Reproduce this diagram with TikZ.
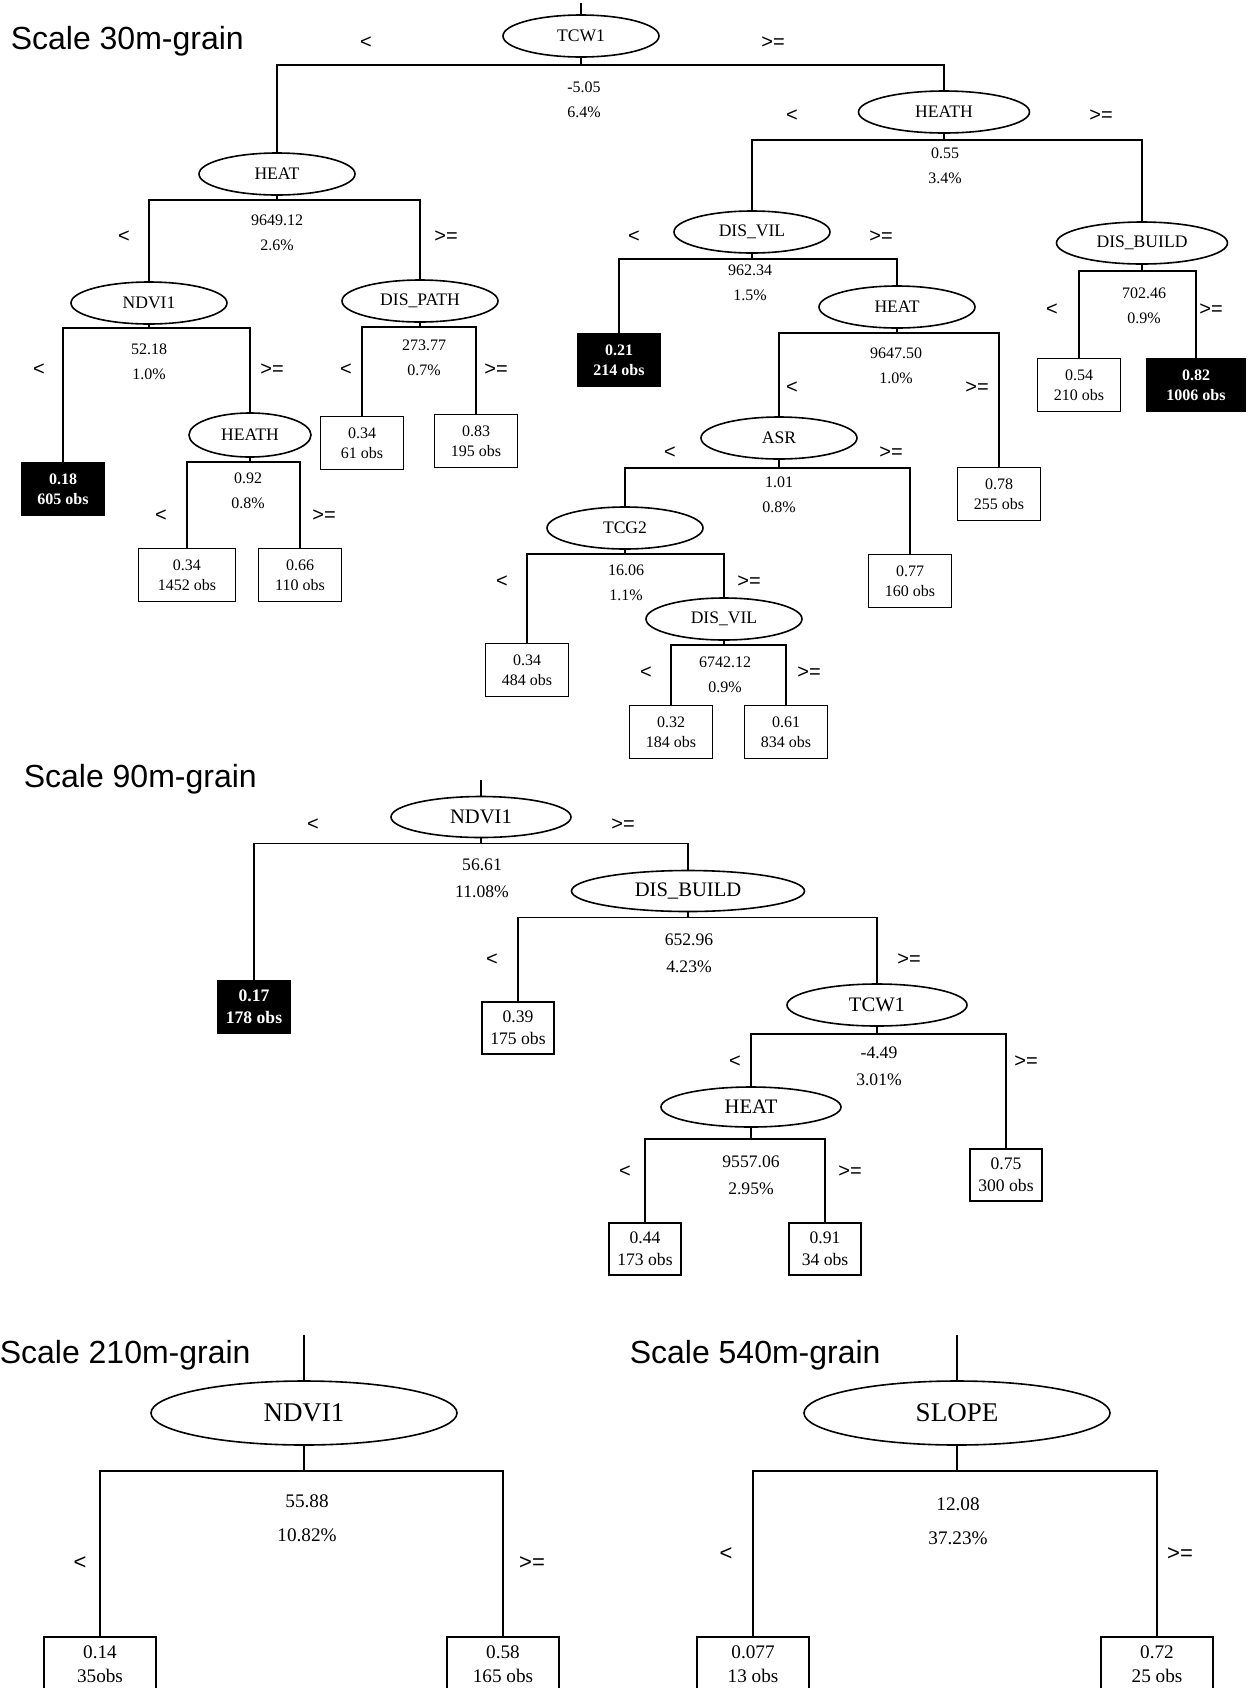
\documentclass[tikz,border=0pt]{standalone}
\usepackage{fontspec}
\setmainfont{Liberation Serif}
\setsansfont{Liberation Sans}
\usetikzlibrary{shapes.geometric}

\begin{document}
\begin{tikzpicture}[x=0.5pt, y=-0.5pt, line width=0.8pt,
	split/.style={draw, ellipse, inner sep=0pt, minimum width=78pt, minimum height=21pt, font=\fontsize{8.8}{10}\selectfont},
	leaf/.style={draw, rectangle, inner sep=0pt, minimum width=41.5pt, minimum height=26.5pt, align=center, font=\fontsize{8}{10}\selectfont},
	dark/.style={leaf, fill=black, text=white, font=\bfseries\fontsize{8}{10}\selectfont},
	info/.style={align=center, inner sep=0pt, font=\fontsize{8}{12.5}\selectfont},
	side/.style={inner sep=0pt, font=\sffamily\fontsize{10}{10}\selectfont},
	title/.style={anchor=base west, inner sep=0pt, font=\sffamily\fontsize{16}{18}\selectfont}]
	\useasboundingbox (0,0) rectangle (1250,1688);

	% Scale 30m-grain
	\node[title] (t30) at (10,49) {Scale 30m-grain};
	\coordinate (top30) at (581,3);
	\node[split] (tcw) at (581,36) {TCW1};
	\node[split] (heat) at (277,174) {HEAT};
	\node[split, minimum width=85.5pt] (heath) at (944,112) {HEATH};
	\node[split] (ndvi) at (149,303) {NDVI1};
	\node[split] (dispath) at (420,301) {DIS\_PATH};
	\node[split, minimum width=61pt, minimum height=22pt] (heathb) at (250,435) {HEATH};
	\node[split] (disvil) at (752,232) {DIS\_VIL};
	\node[split] (heatb) at (897,307) {HEAT};
	\node[split, minimum width=85.5pt] (disbuild) at (1142,243) {DIS\_BUILD};
	\node[split] (asr) at (779,438) {ASR};
	\node[split] (tcg) at (625,528) {TCG2};
	\node[split] (disvilb) at (724,619) {DIS\_VIL};

	\node[dark] (l605) at (63,489) {0.18\\605 obs};
	\node[leaf, minimum width=48.5pt] (l1452) at (187,575) {0.34\\1452 obs};
	\node[leaf] (l110) at (300,575) {0.66\\110 obs};
	\node[leaf] (l61) at (362,443) {0.34\\61 obs};
	\node[leaf] (l195) at (476,441) {0.83\\195 obs};
	\node[dark] (l214) at (619,360) {0.21\\214 obs};
	\node[leaf] (l210) at (1079,385) {0.54\\210 obs};
	\node[dark, minimum width=49.5pt] (l1006) at (1196,385) {0.82\\1006 obs};
	\node[leaf] (l255) at (999,494) {0.78\\255 obs};
	\node[leaf] (l160) at (910,581) {0.77\\160 obs};
	\node[leaf] (l484) at (527,670) {0.34\\484 obs};
	\node[leaf] (l184) at (671,732) {0.32\\184 obs};
	\node[leaf] (l834) at (786,732) {0.61\\834 obs};

	\node[info] (v-tcw) at (584,100) {-5.05\\6.4\%};
	\node[info] (v-heath) at (945,166) {0.55\\3.4\%};
	\node[info] (v-heat) at (277,233) {9649.12\\2.6\%};
	\node[info] (v-ndvi) at (149,362) {52.18\\1.0\%};
	\node[info] (v-dispath) at (424,358) {273.77\\0.7\%};
	\node[info] (v-heathb) at (248,491) {0.92\\0.8\%};
	\node[info] (v-disvil) at (750,283) {962.34\\1.5\%};
	\node[info] (v-heatb) at (896,366) {9647.50\\1.0\%};
	\node[info] (v-disbuild) at (1144,306) {702.46\\0.9\%};
	\node[info] (v-asr) at (779,495) {1.01\\0.8\%};
	\node[info] (v-tcg) at (626,583) {16.06\\1.1\%};
	\node[info] (v-disvilb) at (725,675) {6742.12\\0.9\%};

	\foreach \n/\x/\y in {tcw/366/43, heath/792/116, heat/124/237, ndvi/39/370, dispath/346/370, heathb/161/516,
		disvil/634/237, heatb/792/388, disbuild/1052/310, asr/670/453, tcg/502/582, disvilb/646/673}
		\node[side] (lt-\n) at (\x,\y) {<};
	\foreach \n/\x/\y in {tcw/773/43, heath/1101/116, heat/446/237, ndvi/272/370, dispath/496/370, heathb/324/516,
		disvil/881/237, heatb/977/388, disbuild/1211/310, asr/891/453, tcg/749/582, disvilb/809/673}
		\node[side] (ge-\n) at (\x,\y) {>=};

	\draw (top30) -- (tcw.north);
	\foreach \p/\c/\g in {tcw/heat/7, tcw/heath/7, heat/ndvi/4, heat/dispath/4, ndvi/l605/3, ndvi/heathb/3,
		dispath/l61/4, dispath/l195/4, heathb/l1452/4, heathb/l110/4, heath/disvil/6, heath/disbuild/6,
		disvil/l214/5, disvil/heatb/5, heatb/asr/4, heatb/l255/4, asr/tcg/8, asr/l160/8, tcg/l484/4,
		tcg/disvilb/4, disvilb/l184/4, disvilb/l834/4, disbuild/l210/6, disbuild/l1006/6}
		\draw (\p.south) -- ++(0,\g) -| (\c.north);

	% Scale 90m-grain
	\begin{scope}[split/.append style={minimum width=90pt, minimum height=20.5pt, font=\fontsize{10.3}{12}\selectfont},
		leaf/.append style={minimum width=36pt, minimum height=26pt, font=\fontsize{8.8}{11}\selectfont},
		dark/.append style={font=\bfseries\fontsize{8.8}{11}\selectfont},
		info/.append style={font=\fontsize{8.8}{13.5}\selectfont}]
	\node[title] (t90) at (23,787) {Scale 90m-grain};
	\coordinate (top90) at (481,780);
	\node[split] (ndvib) at (481,817) {NDVI1};
	\node[split, minimum width=116.5pt] (disbuildb) at (688,891) {DIS\_BUILD};
	\node[split, minimum height=21pt] (tcwb) at (877,1005) {TCW1};
	\node[split, minimum height=20pt] (heatc) at (751,1107) {HEAT};

	\node[dark] (l178) at (254,1007) {0.17\\178 obs};
	\node[leaf] (l175) at (518,1028) {0.39\\175 obs};
	\node[leaf] (l300) at (1006,1175) {0.75\\300 obs};
	\node[leaf] (l173) at (645,1249) {0.44\\173 obs};
	\node[leaf] (l34) at (825,1249) {0.91\\34 obs};

	\node[info] (v-ndvib) at (482,878) {56.61\\11.08\%};
	\node[info] (v-disbuildb) at (689,953) {652.96\\4.23\%};
	\node[info] (v-tcwb) at (879,1066) {-4.49\\3.01\%};
	\node[info] (v-heatc) at (751,1175) {9557.06\\2.95\%};

	\foreach \n/\x/\y in {ndvib/313/825, disbuildb/492/960, tcwb/735/1062, heatc/625/1172}
		\node[side] (lt-\n) at (\x,\y) {<};
	\foreach \n/\x/\y in {ndvib/623/825, disbuildb/909/960, tcwb/1026/1062, heatc/850/1172}
		\node[side] (ge-\n) at (\x,\y) {>=};

	\draw (top90) -- (ndvib.north);
	\foreach \p/\c/\g in {ndvib/l178/5, ndvib/disbuildb/5, disbuildb/l175/5, disbuildb/tcwb/5,
		tcwb/heatc/7, tcwb/l300/7, heatc/l173/11, heatc/l34/11}
		\draw (\p.south) -- ++(0,\g) -| (\c.north);
	\end{scope}

	% Scale 210m-grain and 540m-grain
	\begin{scope}[split/.append style={minimum width=153pt, minimum height=32pt, font=\fontsize{13.5}{15}\selectfont},
		leaf/.append style={minimum width=56pt, minimum height=27pt, font=\fontsize{9.6}{12}\selectfont},
		info/.append style={font=\fontsize{9.6}{17}\selectfont},
		side/.append style={font=\sffamily\fontsize{11}{11}\selectfont}]
	\node[title] (t210) at (-1,1363) {Scale 210m-grain};
	\node[title] (t540) at (629,1363) {Scale 540m-grain};
	\coordinate (top210) at (304,1335);
	\coordinate (top540) at (957,1335);
	\node[split] (ndvic) at (304,1413) {NDVI1};
	\node[split] (slope) at (957,1413) {SLOPE};

	\node[leaf] (l35) at (100,1664) {0.14\\35obs};
	\node[leaf] (l165) at (503,1664) {0.58\\165 obs};
	\node[leaf] (l13) at (753,1664) {0.077\\13 obs};
	\node[leaf] (l25) at (1157,1664) {0.72\\25 obs};

	\node[info] (v-ndvic) at (307,1518) {55.88\\10.82\%};
	\node[info] (v-slope) at (958,1521) {12.08\\37.23\%};

	\node[side] (lt-ndvic) at (80,1563) {<};
	\node[side] (ge-ndvic) at (532,1563) {>=};
	\node[side] (lt-slope) at (726,1554) {<};
	\node[side] (ge-slope) at (1180,1554) {>=};

	\draw (top210) -- (ndvic.north);
	\draw (top540) -- (slope.north);
	\foreach \p/\c in {ndvic/l35, ndvic/l165, slope/l13, slope/l25}
		\draw (\p.south) -- ++(0,25) -| (\c.north);
	\end{scope}
\end{tikzpicture}
\end{document}
